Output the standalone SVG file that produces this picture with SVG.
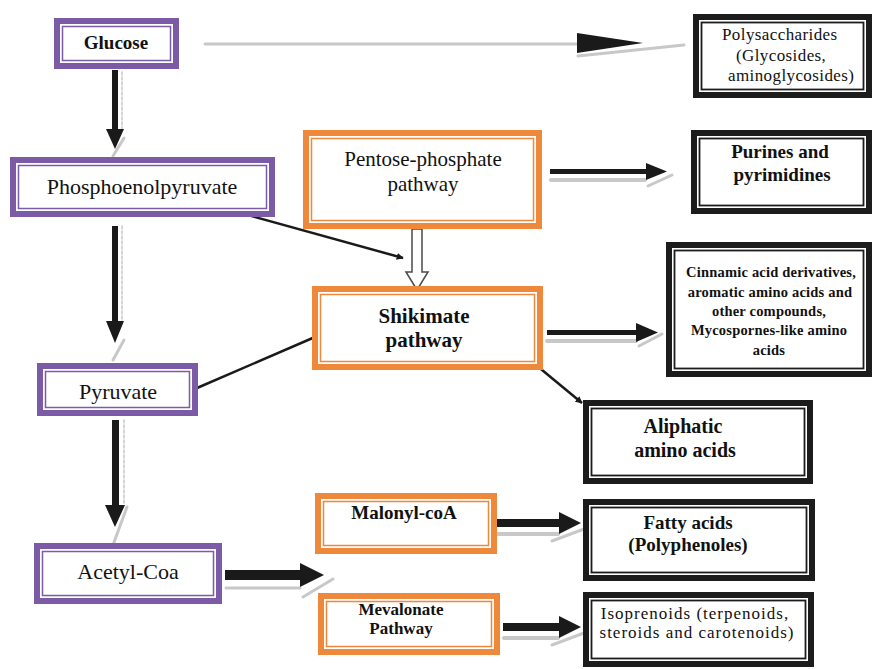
<svg xmlns="http://www.w3.org/2000/svg" width="876" height="669" viewBox="0 0 876 669">
<defs>
<style>
.po{fill:none;stroke:#7b5aa6;stroke-width:6}
.pi{fill:none;stroke:#7b5aa6;stroke-width:1.5}
.oo{fill:none;stroke:#ee893b;stroke-width:6}
.oi{fill:none;stroke:#ee893b;stroke-width:1.5}
.bo{fill:none;stroke:#1c1c1c;stroke-width:6}
.bi{fill:none;stroke:#1c1c1c;stroke-width:1.8}
.bg{fill:#fff}
text{font-family:"Liberation Serif","Times New Roman",serif;fill:#111;text-anchor:middle}
.r22{font-size:22px}
.b{font-weight:bold}
.sh{stroke:#c8c8c8;fill:none;stroke-linecap:round}
.blk{fill:#1a1a1a}
.ln{stroke:#1a1a1a;stroke-width:2.5;fill:none}
</style>
<marker id="ah" viewBox="0 0 10 10" refX="9" refY="5" markerWidth="7" markerHeight="7" markerUnits="userSpaceOnUse" orient="auto">
<path d="M0,0 L10,5 L0,10 z" fill="#1a1a1a"/>
</marker>
</defs>
<rect x="0" y="0" width="876" height="669" fill="#fff"/>

<g id="connectors">
<!-- Glucose -> Polysaccharides -->
<line class="sh" x1="205" y1="44" x2="578" y2="44" stroke-width="3"/>
<line class="sh" x1="578" y1="56" x2="684" y2="45" stroke-width="3"/>
<polygon class="blk" points="577,33 643,43 577,53"/>
<!-- Glucose -> PEP -->
<line class="sh" x1="122" y1="72" x2="122" y2="130" stroke-width="1.5" stroke-dasharray="3,2"/>
<line class="sh" x1="113" y1="156" x2="124" y2="138" stroke-width="3"/>
<rect class="blk" x="112" y="70" width="6" height="62"/>
<polygon class="blk" points="106,129 124,129 115,149"/>
<!-- PEP -> Pyruvate -->
<line class="sh" x1="122" y1="226" x2="122" y2="322" stroke-width="1.5" stroke-dasharray="3,2"/>
<line class="sh" x1="113" y1="360" x2="124" y2="340" stroke-width="3"/>
<rect class="blk" x="112" y="226" width="6" height="98"/>
<polygon class="blk" points="106,321 124,321 115,343"/>
<!-- Pyruvate -> Acetyl-Coa -->
<line class="sh" x1="124" y1="420" x2="124" y2="503" stroke-width="1.5" stroke-dasharray="3,2"/>
<line class="sh" x1="113" y1="545" x2="127" y2="507" stroke-width="3"/>
<rect class="blk" x="112" y="420" width="7" height="88"/>
<polygon class="blk" points="105,505 125,505 115,527"/>
<!-- PEP -> Shikimate -->
<line class="ln" x1="237" y1="212" x2="403" y2="258" marker-end="url(#ah)"/>
<!-- Pyruvate -> Shikimate -->
<line class="ln" x1="197" y1="388" x2="315" y2="337"/>
<!-- Pentose -> Shikimate hollow -->
<path d="M412,229 L422,229 L422,272 L428,272 L417,290 L406,272 L412,272 Z" fill="#fff" stroke="#4a4a4a" stroke-width="1.5"/>
<!-- Pentose -> Purines -->
<line class="sh" x1="551" y1="180" x2="645" y2="180" stroke-width="4"/>
<line class="sh" x1="648" y1="186" x2="672" y2="175" stroke-width="3"/>
<rect class="blk" x="550" y="169" width="100" height="5"/>
<polygon class="blk" points="646,163 667,171.5 646,180"/>
<!-- Shikimate -> Cinnamic -->
<line class="sh" x1="547" y1="341" x2="636" y2="341" stroke-width="4"/>
<line class="sh" x1="639" y1="346" x2="662" y2="334" stroke-width="3"/>
<rect class="blk" x="547" y="330" width="93" height="5"/>
<polygon class="blk" points="636,323 658,332.5 636,342"/>
<!-- Shikimate -> Aliphatic -->
<line class="ln" x1="536" y1="365" x2="582" y2="403" marker-end="url(#ah)"/>
<!-- Acetyl -> Mal/Mev -->
<line class="sh" x1="226" y1="588" x2="300" y2="588" stroke-width="3"/>
<line class="sh" x1="303" y1="597" x2="333" y2="579" stroke-width="3"/>
<rect class="blk" x="225" y="570" width="78" height="10"/>
<polygon class="blk" points="300,563 324,575 300,587"/>
<!-- Malonyl -> Fatty -->
<line class="sh" x1="498" y1="534" x2="558" y2="534" stroke-width="4"/>
<line class="sh" x1="552" y1="541" x2="584" y2="529" stroke-width="3"/>
<rect class="blk" x="497" y="519" width="66" height="8"/>
<polygon class="blk" points="559,512 581,523 559,534"/>
<!-- Mevalonate -> Isoprenoids -->
<line class="sh" x1="504" y1="638" x2="558" y2="638" stroke-width="4"/>
<line class="sh" x1="552" y1="645" x2="584" y2="633" stroke-width="3"/>
<rect class="blk" x="503" y="623" width="60" height="8"/>
<polygon class="blk" points="559,616 581,627 559,638"/>
</g>

<g id="glucose">
<rect class="bg" x="54" y="18" width="125" height="51"/>
<rect class="po" x="57" y="21" width="119" height="45"/>
<rect class="pi" x="62.5" y="26.5" width="108" height="34"/>
<text class="b" x="116" y="49" style="font-size:19px">Glucose</text>
</g>

<g id="phosphoenolpyruvate">
<rect class="bg" x="10" y="157" width="265" height="60"/>
<rect class="po" x="13" y="160" width="259" height="54"/>
<rect class="pi" x="18.5" y="165.5" width="248" height="43"/>
<text class="r22" x="142" y="194">Phosphoenolpyruvate</text>
</g>

<g id="pyruvate">
<rect class="bg" x="37" y="363" width="161" height="53"/>
<rect class="po" x="40" y="366" width="155" height="47"/>
<rect class="pi" x="45.5" y="371.5" width="144" height="36"/>
<text class="r22" x="118" y="399">Pyruvate</text>
</g>

<g id="acetyl-coa">
<rect class="bg" x="34" y="543" width="188" height="61"/>
<rect class="po" x="37" y="546" width="182" height="55"/>
<rect class="pi" x="42.5" y="551.5" width="171" height="44"/>
<text class="r22" x="128" y="579">Acetyl-Coa</text>
</g>

<g id="pentose-phosphate">
<rect class="bg" x="303" y="130" width="239" height="99"/>
<rect class="oo" x="306" y="133" width="233" height="93"/>
<rect class="oi" x="311.5" y="138.5" width="222" height="82"/>
<text x="423" y="166" style="font-size:21px">Pentose-phosphate</text>
<text x="423" y="191" style="font-size:21px">pathway</text>
</g>

<g id="shikimate">
<rect class="bg" x="312" y="286" width="231" height="84"/>
<rect class="oo" x="315" y="289" width="225" height="78"/>
<rect class="oi" x="320.5" y="294.5" width="214" height="67"/>
<text class="b" x="424" y="323" style="font-size:21px">Shikimate</text>
<text class="b" x="424" y="347" style="font-size:21px">pathway</text>
</g>

<g id="malonyl-coa">
<rect class="bg" x="315" y="493" width="182" height="61"/>
<rect class="oo" x="318" y="496" width="176" height="55"/>
<rect class="oi" x="323.5" y="501.5" width="165" height="44"/>
<text class="b" x="404" y="519" style="font-size:19px">Malonyl-coA</text>
</g>

<g id="mevalonate">
<rect class="bg" x="318" y="593" width="182" height="62"/>
<rect class="oo" x="321" y="596" width="176" height="56"/>
<rect class="oi" x="326.5" y="601.5" width="165" height="45"/>
<text class="b" x="401" y="615" style="font-size:17px">Mevalonate</text>
<text class="b" x="401" y="634" style="font-size:17px">Pathway</text>
</g>

<g id="polysaccharides">
<rect class="bg" x="693" y="14" width="179" height="84"/>
<rect class="bo" x="696" y="17" width="173" height="78"/>
<rect class="bi" x="701.5" y="22.5" width="162" height="67"/>
<text x="722" y="40" style="font-size:17px;text-anchor:start;letter-spacing:0.4px">Polysaccharides</text>
<text x="736" y="61" style="font-size:17px;text-anchor:start;letter-spacing:0.4px">(Glycosides,</text>
<text x="728" y="81" style="font-size:17px;text-anchor:start;letter-spacing:0.4px">aminoglycosides)</text>
</g>

<g id="purines">
<rect class="bg" x="691" y="130" width="181" height="84"/>
<rect class="bo" x="694" y="133" width="175" height="78"/>
<rect class="bi" x="699.5" y="138.5" width="164" height="67"/>
<text class="b" x="780" y="158" style="font-size:19px">Purines and</text>
<text class="b" x="782" y="181" style="font-size:19px">pyrimidines</text>
</g>

<g id="cinnamic">
<rect class="bg" x="666" y="242" width="206" height="135"/>
<rect class="bo" x="669" y="245" width="200" height="129"/>
<rect class="bi" x="674.5" y="250.5" width="189" height="118"/>
<text class="b" x="771" y="277" style="font-size:14.5px;letter-spacing:0.2px">Cinnamic acid derivatives,</text>
<text class="b" x="770" y="297" style="font-size:14.5px;letter-spacing:0.2px">aromatic amino acids and</text>
<text class="b" x="769" y="316" style="font-size:14.5px;letter-spacing:0.2px">other compounds,</text>
<text class="b" x="769" y="335" style="font-size:14.5px;letter-spacing:0.2px">Mycospornes-like amino</text>
<text class="b" x="769" y="355" style="font-size:14.5px;letter-spacing:0.2px">acids</text>
</g>

<g id="aliphatic">
<rect class="bg" x="583" y="400" width="230" height="84"/>
<rect class="bo" x="586" y="403" width="224" height="78"/>
<rect class="bi" x="591.5" y="408.5" width="213" height="67"/>
<text class="b" x="683" y="433" style="font-size:20px">Aliphatic</text>
<text class="b" x="685" y="457" style="font-size:20px">amino acids</text>
</g>

<g id="fatty-acids">
<rect class="bg" x="583" y="499" width="232" height="82"/>
<rect class="bo" x="586" y="502" width="226" height="76"/>
<rect class="bi" x="591.5" y="507.5" width="215" height="65"/>
<text class="b" x="688" y="529" style="font-size:19px">Fatty acids</text>
<text class="b" x="688" y="551" style="font-size:19px">(Polyphenoles)</text>
</g>

<g id="isoprenoids">
<rect class="bg" x="583" y="592" width="231" height="75"/>
<rect class="bo" x="586" y="595" width="225" height="69"/>
<rect class="bi" x="591.5" y="600.5" width="214" height="58"/>
<text x="695" y="619" style="font-size:17px;letter-spacing:1px">Isoprenoids (terpenoids,</text>
<text x="697" y="638" style="font-size:17px;letter-spacing:1px">steroids and carotenoids)</text>
</g>
</svg>
